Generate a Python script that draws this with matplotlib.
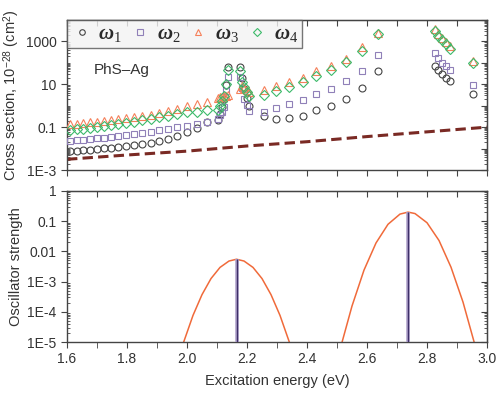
import matplotlib
matplotlib.use('Agg')
import matplotlib.pyplot as plt
from matplotlib.ticker import FixedLocator, FixedFormatter, MultipleLocator, LogLocator, NullFormatter
from matplotlib.lines import Line2D

plt.rcParams['font.family'] = ['Liberation Sans', 'DejaVu Sans']
plt.rcParams['mathtext.fontset'] = 'custom'
plt.rcParams['mathtext.it'] = 'Liberation Serif:italic:bold'
plt.rcParams['mathtext.rm'] = 'Liberation Sans'
plt.rcParams['mathtext.bf'] = 'Liberation Serif'

# ---------------- data ----------------
energy = [1.610, 1.632, 1.653, 1.676, 1.699, 1.722, 1.746, 1.771, 1.797, 1.824,
          1.851, 1.879, 1.908, 1.938, 1.968, 2.000, 2.033, 2.067,
          2.102, 2.109, 2.116, 2.123, 2.131, 2.138,
          2.175, 2.183, 2.191, 2.199, 2.206,
          2.255, 2.296, 2.340, 2.385, 2.431, 2.480, 2.531, 2.583, 2.638,
          2.825, 2.838, 2.851, 2.864, 2.877,
          2.952]

omega1 = [0.0077, 0.0081, 0.0085, 0.0090, 0.0095, 0.0105, 0.0111, 0.0118, 0.0131, 0.0146,
          0.0162, 0.0190, 0.0223, 0.0277, 0.0381, 0.0585, 0.0897, 0.171,
          0.212, 0.403, 0.851, 2.00, 8.98, 61.8,
          61.8, 19.0, 5.85, 2.23, 0.948,
          0.325, 0.228, 0.254, 0.325, 0.665, 0.948, 2.16, 6.73, 40.3,
          71.0, 44.8, 29.2, 19.6, 13.8,
          3.69]

omega2 = [0.0223, 0.0248, 0.0262, 0.0277, 0.0308, 0.0325, 0.0343, 0.0381, 0.0425, 0.0472,
          0.0526, 0.0618, 0.0724, 0.0807, 0.100, 0.117, 0.138, 0.171,
          0.243, 0.350, 0.537, 0.851, 5.09, 21.2,
          21.2, 6.52, 2.00, 1.05, 0.555,
          0.515, 0.791, 1.17, 1.94, 3.43, 6.04, 14.2, 43.4, 240,
          286, 167, 102, 68.7, 44.8,
          9.68]

omega3 = [0.138, 0.146, 0.153, 0.171, 0.180, 0.200, 0.212, 0.236, 0.262, 0.292,
          0.325, 0.381, 0.448, 0.555, 0.687, 0.948, 1.17, 1.46,
          2.23, 2.48, 2.62, 2.77, 2.92, 3.25,
          5.85, 8.07, 6.52, 5.26, 4.25,
          5.66, 8.07, 12.8, 20.5, 41.6, 68.7, 157, 543, 2540,
          3610, 2230, 1380, 898, 585,
          117]

omega4 = [0.0724, 0.0807, 0.0851, 0.0897, 0.100, 0.111, 0.124, 0.138, 0.153, 0.180,
          0.212, 0.248, 0.292, 0.343, 0.403, 0.499, 0.537, 0.598,
          0.618, 1.02, 1.75, 2.98, 10.0, 44.8,
          40.3, 12.4, 7.24, 4.25, 2.77,
          3.32, 4.88, 7.48, 12.8, 23.6, 48.3, 109, 354, 2120,
          2920, 1770, 1110, 724, 457,
          102]

dash_energy = [1.6, 1.8, 2.0, 2.2, 2.4, 2.6, 2.8, 3.0]
dash_values = [0.00316, 0.00501, 0.00759, 0.0132, 0.0209, 0.0363, 0.0603, 0.100]

peak1_energy = [1.989, 2.02, 2.05, 2.08, 2.11, 2.14, 2.165, 2.19, 2.22, 2.25, 2.28, 2.31, 2.341]
peak1_f = [1e-5, 7.6e-5, 3.7e-4, 1.26e-3, 2.95e-3, 4.8e-3, 5.5e-3, 4.8e-3, 2.95e-3, 1.26e-3, 3.7e-4, 7.6e-5, 1e-5]
peak2_energy = [2.517, 2.55, 2.59, 2.63, 2.67, 2.71, 2.737, 2.76, 2.80, 2.84, 2.88, 2.92, 2.957]
peak2_f = [1e-5, 1.55e-4, 2.4e-3, 0.019, 0.079, 0.172, 0.20, 0.179, 0.089, 0.023, 3.0e-3, 2.1e-4, 1e-5]

stick_energy = [2.165, 2.737]
stick_f = [0.0055, 0.20]

series_labels = [r'$\omega_{\mathbf{1}}$', r'$\omega_{\mathbf{2}}$', r'$\omega_{\mathbf{3}}$', r'$\omega_{\mathbf{4}}$']
top_ticks = [1e-3, 1e-1, 1e1, 1e3]
top_tick_labels = ['1E-3', '0.1', '10', '1000']
bottom_ticks = [1e-5, 1e-4, 1e-3, 1e-2, 1e-1, 1]
bottom_tick_labels = ['1E-5', '1E-4', '1E-3', '0.01', '0.1', '1']

# ---------------- figure ----------------
W, H = 498, 397
fig = plt.figure(figsize=(W / 100, H / 100), dpi=100)
L, R = 67, 487
ax1 = fig.add_axes([L / W, 1 - 170 / H, (R - L) / W, 150 / H])
ax2 = fig.add_axes([L / W, 1 - 342 / H, (R - L) / W, 151 / H])

tc = '#333333'
sc = '#444444'
for ax in (ax1, ax2):
    for s in ax.spines.values():
        s.set_color(sc)
        s.set_linewidth(1.0)

styles = [
    dict(marker='o', mec='#444444', ms=5.0),
    dict(marker='s', mec='#9080b8', ms=4.6),
    dict(marker='^', mec='#f5805a', ms=6.0),
    dict(marker='D', mec='#3cba6a', ms=5.0),
]
data = [omega1, omega2, omega3, omega4]
handles = []
for vals, st, lab in zip(data, styles, series_labels):
    ax1.plot(energy, vals, ls='none', marker=st['marker'], mfc='none', mec=st['mec'],
             ms=st['ms'], mew=0.8, zorder=3)
    handles.append(Line2D([], [], ls='none', marker=st['marker'], mfc='none', mec=st['mec'],
                          ms=st['ms'] * 0.8, mew=0.8, label=lab))

ax1.plot(dash_energy, dash_values, color='#7a2a24', lw=2.2, ls=(0, (3.4, 1.7)), zorder=2)


def style_axes(ax, yticks, ylabels):
    ax.set_yscale('log')
    ax.set_xlim(1.6, 3.0)
    ax.yaxis.set_major_locator(FixedLocator(yticks))
    ax.yaxis.set_major_formatter(FixedFormatter(ylabels))
    ax.yaxis.set_minor_locator(LogLocator(base=10, subs=[2, 3, 4, 5, 6, 7, 8, 9], numticks=20))
    ax.yaxis.set_minor_formatter(NullFormatter())
    ax.tick_params(axis='y', which='major', direction='out', length=4, labelsize=10,
                   labelcolor=tc, color=sc)
    ax.tick_params(axis='y', which='minor', direction='in', length=2.5, color=sc)
    sx = ax.secondary_xaxis('top')
    sx.xaxis.set_major_locator(MultipleLocator(0.1))
    sx.tick_params(direction='in', length=4, labeltop=False, color=sc)
    sy = ax.secondary_yaxis('right')
    sy.yaxis.set_major_locator(LogLocator(base=10, numticks=20))
    sy.yaxis.set_minor_locator(LogLocator(base=10, subs=[2, 3, 4, 5, 6, 7, 8, 9], numticks=20))
    sy.tick_params(which='major', direction='in', length=4, labelright=False, color=sc)
    sy.tick_params(which='minor', direction='in', length=2.5, labelright=False, color=sc)
    sy.yaxis.set_minor_formatter(NullFormatter())


ax1.set_ylim(1e-3, 1e4)
style_axes(ax1, top_ticks, top_tick_labels)
ax1.yaxis.set_minor_locator(LogLocator(base=10, subs=[1.0, 2, 3, 4, 5, 6, 7, 8, 9], numticks=20))
ax1.xaxis.set_major_locator(MultipleLocator(0.1))
ax1.tick_params(axis='x', which='both', direction='out', length=4, labelbottom=False, color=sc)
ax1.set_ylabel(r'Cross section, 10$^{-28}$ (cm$^{2}$)', fontsize=10.5, color=tc, labelpad=3)

leg = ax1.legend(handles=handles, loc='upper left', bbox_to_anchor=(0, 1), ncol=4,
                 frameon=True, fancybox=False, borderaxespad=0, handlelength=1.0,
                 handletextpad=0.3, columnspacing=0.37, borderpad=0.2, fontsize=15)
leg.get_frame().set_facecolor('#f3f3f3')
leg.get_frame().set_edgecolor('#555555')
leg.get_frame().set_linewidth(1.0)
for t in leg.get_texts():
    t.set_color('#2a2a2a')

ax1.text(0.063, 0.64, 'PhS\u2013Ag', transform=ax1.transAxes, fontsize=11, color=tc)

# bottom panel
ax2.plot(peak1_energy, peak1_f, color='#f06a3a', lw=1.1, zorder=2)
ax2.plot(peak2_energy, peak2_f, color='#f06a3a', lw=1.1, zorder=2)
ax2.vlines(stick_energy, 1e-6, stick_f, color='#b0a2cc', lw=2.6, zorder=3)
ax2.vlines(stick_energy, 1e-6, stick_f, color='#3e2f68', lw=1.0, zorder=4)
ax2.set_ylim(1e-5, 1)
style_axes(ax2, bottom_ticks, bottom_tick_labels)
ax2.xaxis.set_major_locator(MultipleLocator(0.2))
ax2.xaxis.set_minor_locator(MultipleLocator(0.1))
ax2.xaxis.set_major_formatter(matplotlib.ticker.FormatStrFormatter('%.1f'))
ax2.tick_params(axis='x', which='both', direction='out', length=4, labelsize=10,
                labelcolor=tc, color=sc, pad=3)
ax2.set_ylabel('Oscillator strength', fontsize=10.5, color=tc, labelpad=3)
ax2.set_xlabel('Excitation energy (eV)', fontsize=10.5, color=tc, labelpad=6)

fig.savefig('out.png', dpi=100)
